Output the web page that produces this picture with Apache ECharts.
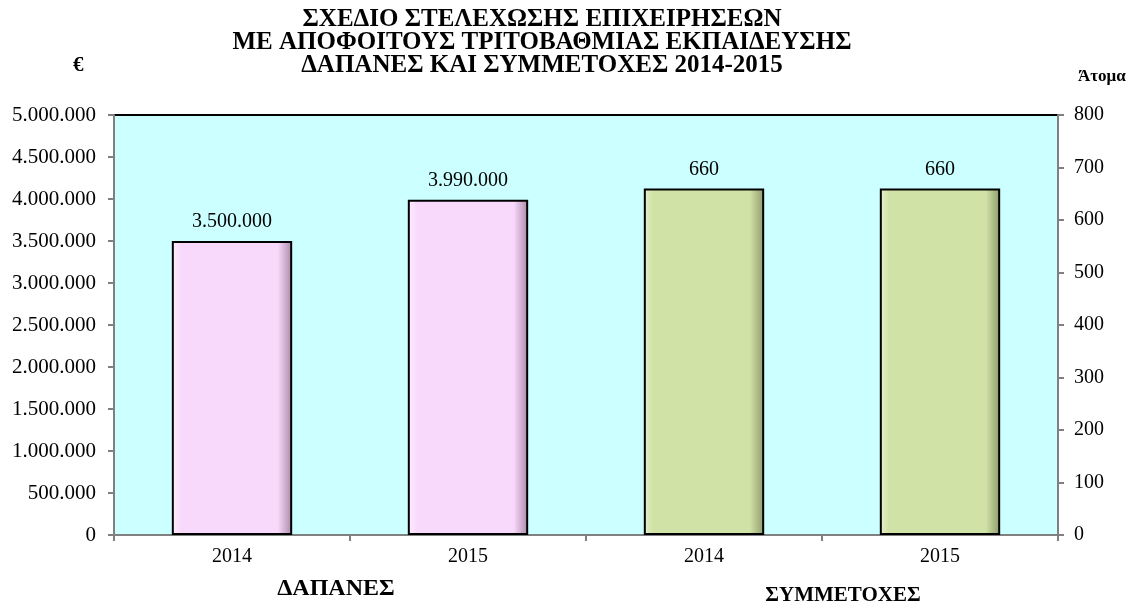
<!doctype html>
<html style="width: 100%; height: 100%"><head><meta charset="utf-8"></head>
<body style="width: 100%; height: 100%; margin: 0; background: #fff">
<div id="container" style="width: 1136px; height: 608px"></div>
<script type="text/javascript" src="https://cdn.jsdelivr.net/npm/echarts@6/dist/echarts.min.js"></script>
<script type="text/javascript">
var categories = ['2014', '2015', '2014', '2015'];
var spending = [3500000, 3990000, '-', '-'];
var participants = ['-', '-', 660, 660];
var groupNames = ['ΔΑΠΑΝΕΣ', 'ΣΥΜΜΕΤΟΧΕΣ'];

var serif = '"Liberation Serif", "DejaVu Serif", serif';

function dots(v) {
    return String(v).replace(/\B(?=(\d{3})+(?!\d))/g, '.');
}

// fake the bevel: light left edge, dark right edge
function bevel(light, base, dark) {
    return new echarts.graphic.LinearGradient(0, 0, 1, 0, [
        {offset: 0, color: light},
        {offset: 0.08, color: base},
        {offset: 0.88, color: base},
        {offset: 1, color: dark}
    ]);
}

var dom = document.getElementById('container');
var myChart = echarts.init(dom);
var option = {
    animation: false,
    textStyle: {fontFamily: serif},
    title: [
        {
            text: 'ΣΧΕΔΙΟ ΣΤΕΛΕΧΩΣΗΣ ΕΠΙΧΕΙΡΗΣΕΩΝ\nΜΕ ΑΠΟΦΟΙΤΟΥΣ ΤΡΙΤΟΒΑΘΜΙΑΣ ΕΚΠΑΙΔΕΥΣΗΣ\nΔΑΠΑΝΕΣ ΚΑΙ ΣΥΜΜΕΤΟΧΕΣ 2014-2015',
            left: 537, top: 3, textAlign: 'center',
            textStyle: {fontFamily: serif, fontWeight: 'bold', fontSize: 25, lineHeight: 23, color: '#000'}
        },
        {text: '€', left: 68, top: 50, textStyle: {fontFamily: serif, fontWeight: 'bold', fontSize: 21, color: '#000'}},
        {text: 'Άτομα', left: 1073, top: 63, textStyle: {fontFamily: serif, fontWeight: 'bold', fontSize: 17, color: '#000'}},
        {text: groupNames[0], left: 331, top: 572, textAlign: 'center', textStyle: {fontFamily: serif, fontWeight: 'bold', fontSize: 24, color: '#000'}},
        {text: groupNames[1], left: 838, top: 580, textAlign: 'center', textStyle: {fontFamily: serif, fontWeight: 'bold', fontSize: 21, color: '#000'}}
    ],
    grid: {
        left: 114, right: 78, top: 115, bottom: 73,
        show: true, backgroundColor: '#CCFFFF', borderColor: '#000', borderWidth: 2
    },
    xAxis: {
        type: 'category',
        data: categories,
        axisLine: {lineStyle: {color: '#808080', width: 2}},
        axisTick: {show: true, length: 6, lineStyle: {color: '#808080', width: 2}},
        axisLabel: {color: '#000', fontSize: 20, fontFamily: serif, margin: 12}
    },
    yAxis: [
        {
            type: 'value', min: 0, max: 5000000, interval: 500000,
            splitLine: {show: false},
            axisLine: {show: true, lineStyle: {color: '#808080', width: 2}},
            axisTick: {show: true, length: 6, lineStyle: {color: '#808080', width: 2}},
            axisLabel: {color: '#000', fontSize: 21, fontFamily: serif, margin: 18, formatter: dots}
        },
        {
            type: 'value', min: 0, max: 800, interval: 100, position: 'right',
            splitLine: {show: false},
            axisLine: {show: true, lineStyle: {color: '#808080', width: 2}},
            axisTick: {show: true, length: 6, lineStyle: {color: '#808080', width: 2}},
            axisLabel: {color: '#000', fontSize: 20, fontFamily: serif, margin: 16}
        }
    ],
    series: [
        {
            name: groupNames[0], type: 'bar', yAxisIndex: 0,
            data: spending, barWidth: '51%', barGap: '-100%',
            itemStyle: {color: bevel('#fdeefe', '#F9D9FB', '#a988a9'), borderColor: '#000', borderWidth: 2},
            label: {show: true, position: 'top', distance: 9, color: '#000', fontSize: 20, fontFamily: serif,
                formatter: function (p) { return dots(p.value); }}
        },
        {
            name: groupNames[1], type: 'bar', yAxisIndex: 1,
            data: participants, barWidth: '51%', barGap: '-100%',
            itemStyle: {color: bevel('#e6f0cc', '#D0E2A6', '#8e9a6e'), borderColor: '#000', borderWidth: 2},
            label: {show: true, position: 'top', distance: 9, color: '#000', fontSize: 20, fontFamily: serif}
        }
    ]
};
myChart.setOption(option);
</script>
</body></html>
